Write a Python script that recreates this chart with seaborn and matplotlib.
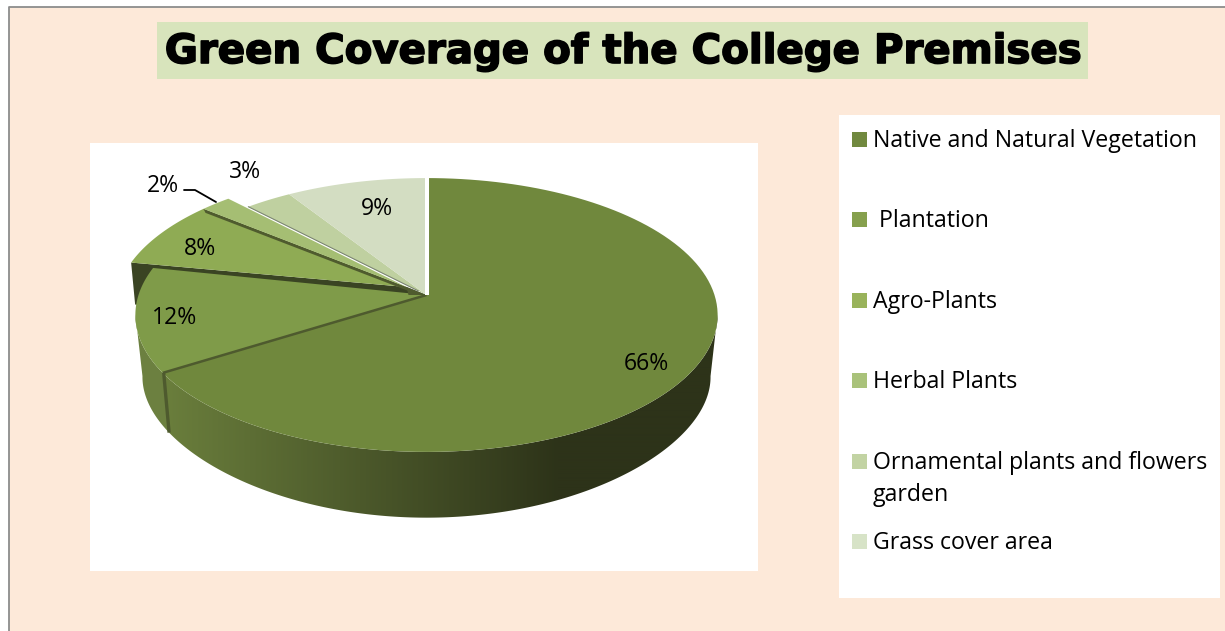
import numpy as np
import matplotlib
matplotlib.use("Agg")
import matplotlib.pyplot as plt
import matplotlib.patheffects as pe
from matplotlib.patches import Rectangle, Polygon
import seaborn as sns

# ---- data ----
categories = ["Native and Natural Vegetation", " Plantation", "Agro-Plants", "Herbal Plants",
              "Ornamental plants and flowers\ngarden", "Grass cover area"]
values = [66, 12, 8, 2, 3, 9]
title = "Green Coverage of the College Premises"
top_colors = ["#70883D", "#7F9B49", "#8FAB54", "#A5BE73", "#BFD0A0", "#D3DDC2"]
key_colors = ["#71893F", "#86A04D", "#99B35B", "#A9C27A", "#C2D3A3", "#D7E3C7"]

sns.set_theme(style="white")
plt.rcParams["font.family"] = ["Open Sans", "DejaVu Sans"]

fig = plt.figure(figsize=(12.25, 6.31), dpi=100, facecolor="white")
ax = fig.add_axes([0, 0, 1, 1])
ax.set_xlim(0, 1225)
ax.set_ylim(631, 0)
ax.axis("off")

# background panels
ax.add_patch(Rectangle((9, 7), 1225, 631, fc="#FDE9D9", ec="none"))
ax.plot([9, 9, 1225], [631, 7, 7], color="#8C8C8C", lw=1.3)
ax.add_patch(Rectangle((157, 22), 931, 57, fc="#D8E4BC", ec="none"))
ax.add_patch(Rectangle((90, 143), 668, 428, fc="white", ec="none"))
ax.add_patch(Rectangle((839, 115), 381, 483, fc="white", ec="none"))
ax.text(623, 63, title, ha="center", va="baseline", fontsize=29, fontweight="bold",
        family="DejaVu Sans", color="black",
        path_effects=[pe.withStroke(linewidth=1.2, foreground="black")])

# ---- perspective pie geometry ----
CX, CY, A, B, K = 426.5, 295.0, 288.0, 134.0, 0.146
edges = np.cumsum([0] + values) / sum(values) * 2 * np.pi


def rim(t):
    u, v = np.sin(t), np.cos(t)
    d = 1 + K * v
    return CX + A * u / d, CY - B * v / d


def base(t):
    u, v = np.sin(t), np.cos(t)
    return CX + 281 * u / (1 + K * v), 359 - 119 * v / (1 + 0.25 * v)


def slice_poly(i, dx=0.0, dy=0.0, extra=0.0):
    t = np.linspace(edges[i], edges[i + 1] + extra, 120)
    x, y = rim(t)
    return np.r_[CX, x] + dx, np.r_[CY, y] + dy


def fill(x, y, c, **kw):
    ax.fill(x, y, color=c, lw=0, **kw)


# outer wall of the largest slice, shaded left to right
shade = sns.blend_palette(["#6A7E3C", "#2D3319"], 256, as_cmap=True)
ts = np.linspace(np.radians(98), edges[1], 300)
xt, yt = rim(ts); xb, yb = base(ts)
wall = Polygon(np.c_[np.r_[xt, xb[::-1]], np.r_[yt, yb[::-1]]], closed=True,
               fc="none", ec="none", transform=ax.transData)
ax.add_patch(wall)
grad_x = np.linspace(130, 730, 600)
grad = np.clip((grad_x - 165) / (560 - 165), 0, 1)
im = ax.imshow(grad[None, :], extent=(130, 730, 530, 300), cmap=shade, vmin=0, vmax=1,
               aspect="auto", zorder=1, interpolation="bilinear")
im.set_clip_path(wall)
ax.set_xlim(0, 1225)
ax.set_ylim(631, 0)

# outer wall of the second slice
ts = np.linspace(edges[1], np.radians(262), 60)
xt, yt = rim(ts); xb, yb = base(ts)
fill(np.r_[xt, xb[::-1]], np.r_[yt, yb[::-1]], "#6C8040")
x0, y0 = rim(edges[1]); x1, y1 = base(edges[1])
ax.plot([x0 + 1, x1], [y0, y1], color="#4E5A2E", lw=2.4, solid_capstyle="butt")

# pulled-out slices share this shift
SX, SY = -20.0, -8.0
# cut face of the pulled-out slice, seen between it and its neighbour
x0, y0 = rim(edges[2])
fill([x0 + SX, x0 + SX + 4, CX + SX + 4, CX, CX + SX],
     [y0 + SY, y0 + SY + 42, CY + SY + 42, CY, CY + SY], "#3A4423")

# top faces
x, y = slice_poly(1, extra=np.radians(1.2))
fill(x, y, top_colors[1])
x, y = slice_poly(0)
fill(x, y, top_colors[0])
x0, y0 = rim(edges[1])
ax.plot([CX, x0], [CY, y0], color="#4E5A2E", lw=1.8, solid_capstyle="butt")

# apex shadow between the pulled-out slices and the centre
fill([CX + SX, CX, CX + SX + 2], [CY + SY, CY, CY + SY + 8], "#4F5B2E")

x, y = slice_poly(2, SX, SY)
fill(x, y, top_colors[2])
x0, y0 = rim(edges[3])
fill([x0 + SX, x0 + SX + 2, CX + SX + 2, CX + SX],
     [y0 + SY, y0 + SY + 4, CY + SY + 4, CY + SY], "#4F5B2E")
x, y = slice_poly(3, SX, SY)
fill(x, y, top_colors[3])
x, y = slice_poly(4)
fill(x, y, top_colors[4])
x, y = slice_poly(5)
fill(x, y, top_colors[5])
x0, y0 = rim(edges[4])
ax.plot([x0, CX - 8], [y0, CY - 4], color="#7A8570", lw=0.8)
ax.plot([CX, CX], [CY, 170], color="white", lw=2.9, solid_capstyle="butt")

# value labels
label_x = [646, 175, 200, 163, 245, 377]
label_y = [364, 318, 249, 186, 172, 209]
for s, lx, ly in zip(values, label_x, label_y):
    ax.text(lx, ly, f"{s}%", ha="center", va="center", fontsize=16.6, color="black")
ax.plot([184, 195, 216], [190, 190, 202], color="black", lw=1.3)

# legend
key_y = [139.5, 219.5, 300.5, 380.5, 461.5, 541.5]
for name, c, ky in zip(categories, key_colors, key_y):
    ax.add_patch(Rectangle((852, ky - 7.5), 15, 15, fc=c, ec="none"))
    first, *rest = name.split("\n")
    ax.text(873, ky + 1.8, first, ha="left", va="center", fontsize=16.7, color="black")
    if rest:
        ax.text(873, ky + 33.8, rest[0], ha="left", va="center", fontsize=16.7, color="black")

fig.savefig("out.png", dpi=100, facecolor="white")
